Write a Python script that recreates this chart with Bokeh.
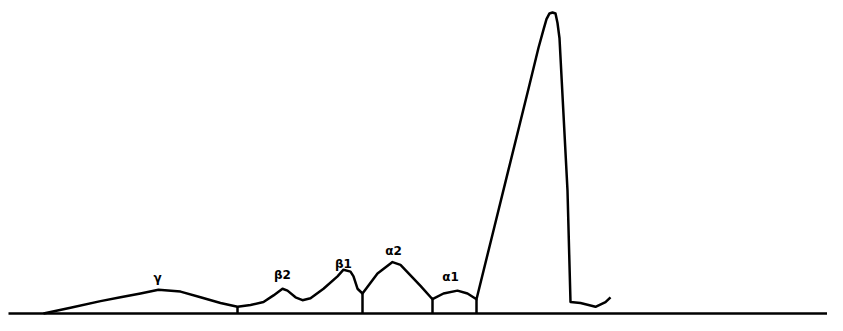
from bokeh.plotting import figure
from bokeh.models import Range1d
from bokeh.core.properties import value
from bokeh.embed import file_html
from bokeh.resources import INLINE

# Densitometry trace (mobility, intensity above baseline)
trace_x = [43, 70, 100, 120, 140, 158, 180, 200, 220, 237,
           250, 263, 273, 282, 287, 295, 302, 310, 323, 337, 343, 350, 353, 357, 362,
           377, 392, 400, 420, 432,
           443, 457, 467, 476,
           492, 508, 528, 538, 543, 546, 549, 552, 555, 557, 559, 562, 567, 570,
           580, 595, 605, 610]
trace_y = [0, 6, 13, 17, 21, 25, 23, 17, 11, 7,
           9, 12, 19, 26, 24, 17, 14, 16, 26, 39, 46, 44, 39, 26, 21,
           42, 54, 51, 29, 15,
           21, 24, 21, 15,
           83, 151, 236, 279, 298, 309, 315, 316, 315, 305, 289, 229, 129, 12,
           11, 7, 12, 17]

# Fraction boundaries (mobility)
divider_x = [237, 362, 432, 476]
divider_y = [7, 21, 15, 15]

# Fraction labels
label_text = ["γ", "β2", "β1", "α2", "α1"]
label_x = [157, 282, 343, 393, 450]
label_y = [37, 40, 52, 66, 38]

baseline_x = [8, 843]
baseline_y = [0, 0]

p = figure(width=827, height=315, output_backend="svg", toolbar_location=None,
           x_range=Range1d(0, 827), y_range=Range1d(-2.1, 328.6),
           min_border=0, outline_line_color=None)
p.axis.visible = False
p.grid.visible = False
p.background_fill_color = "white"
p.border_fill_color = "white"

p.line(baseline_x, baseline_y, line_color="black", line_width=2.5)
p.segment(x0=divider_x, y0=[0] * len(divider_x), x1=divider_x, y1=divider_y,
          line_color="black", line_width=2.5)
p.line(trace_x, trace_y, line_color="black", line_width=2.5, line_join="round")
p.text(x=label_x, y=label_y, text=label_text, text_align="center",
       text_baseline="middle", text_font=value("DejaVu Sans"),
       text_font_size="12px", text_font_style="bold", text_color="black")

open("out.html", "w").write(file_html(p, INLINE))
